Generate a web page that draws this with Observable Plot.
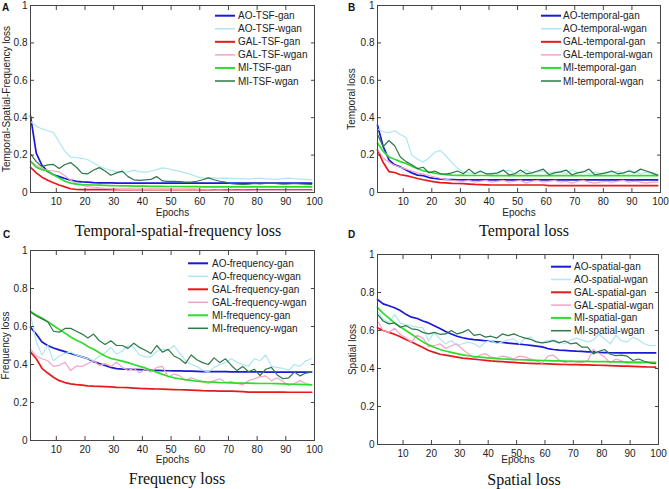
<!DOCTYPE html>
<html>
<head>
<meta charset="utf-8">
<script src="https://cdn.jsdelivr.net/npm/d3@7"></script>
<script src="https://cdn.jsdelivr.net/npm/@observablehq/plot@0.6"></script>
<style>
  html, body { margin: 0; padding: 0; background: #fff; }
  #fig { position: relative; width: 669px; height: 489px; overflow: hidden; background: #fff;
         font-family: "Liberation Sans", Arial, sans-serif; }
  .pane { position: absolute; z-index: 1; }
  .pane svg { display: block; }
  .title { position: absolute; font-family: "Liberation Serif", "Times New Roman", serif; font-size: 16px;
           color: #111; white-space: nowrap; transform: translate(-50%, -50%); z-index: 2; }
  .letter { position: absolute; font-weight: bold; font-size: 10px; color: #111; z-index: 2; }
  #legend { position: absolute; left: 0; top: 0; z-index: 5; pointer-events: none; }
</style>
</head>
<body>
<div id="fig"></div>
<script>
// ---------- shared axes ----------
const epochs = [1,3,5,7,9,11,13,15,17,19,21,23,25,27,29,31,33,35,37,39,41,43,45,47,49,
                51,53,55,57,59,61,63,65,67,69,71,73,75,77,79,81,83,85,87,89,91,93,95,97,99];
const xTicks = [10,20,30,40,50,60,70,80,90,100];
const yTicks = [0,0.2,0.4,0.6,0.8,1];
const yTickLabels = ["0","0.2","0.4","0.6","0.8","1"];
const seriesColors = ["#1a1ad6","#aee6f2","#e41a1c","#f4a3c8","#2edc2e","#2b7a48"];
const seriesWidths = [1.7,1.2,1.7,1.2,1.7,1.2];

// ---------- A: temporal-spatial-frequency ----------
const tsfNames = ["AO-TSF-gan","AO-TSF-wgan","GAL-TSF-gan","GAL-TSF-wgan","MI-TSF-gan","MI-TSF-wgan"];
const aoTsfGan = [0.41,0.21,0.145,0.112,0.095,0.085,0.075,0.066,0.06,0.057,
  0.055,0.053,0.052,0.051,0.051,0.05,0.05,0.05,0.05,0.05,
  0.05,0.05,0.05,0.05,0.05,0.05,0.05,0.05,0.05,0.05,
  0.05,0.05,0.05,0.05,0.05,0.05,0.05,0.05,0.05,0.05,
  0.05,0.05,0.05,0.05,0.05,0.05,0.05,0.05,0.05,0.05];
const aoTsfWgan = [0.38,0.355,0.34,0.33,0.32,0.27,0.22,0.19,0.186,0.183,
  0.175,0.158,0.14,0.127,0.118,0.112,0.108,0.11,0.118,0.112,
  0.108,0.115,0.122,0.132,0.127,0.12,0.113,0.105,0.096,0.085,
  0.077,0.078,0.078,0.076,0.077,0.076,0.074,0.075,0.072,0.075,
  0.077,0.073,0.072,0.07,0.074,0.077,0.074,0.072,0.07,0.068];
const galTsfGan = [0.135,0.105,0.082,0.066,0.052,0.04,0.03,0.02,0.016,0.015,
  0.015,0.015,0.015,0.015,0.015,0.015,0.015,0.015,0.015,0.015,
  0.015,0.015,0.015,0.015,0.015,0.015,0.015,0.015,0.015,0.015,
  0.014,0.014,0.014,0.014,0.014,0.014,0.014,0.014,0.014,0.014,
  0.014,0.014,0.014,0.014,0.014,0.014,0.014,0.014,0.014,0.014];
const galTsfWgan = [0.17,0.145,0.128,0.118,0.115,0.11,0.09,0.065,0.048,0.038,
  0.032,0.028,0.025,0.022,0.02,0.018,0.017,0.018,0.016,0.017,
  0.016,0.017,0.015,0.016,0.017,0.015,0.016,0.015,0.014,0.016,
  0.014,0.015,0.013,0.014,0.012,0.013,0.012,0.013,0.012,0.011,
  0.012,0.011,0.012,0.011,0.012,0.011,0.012,0.011,0.011,0.011];
const miTsfGan = [0.166,0.135,0.122,0.115,0.095,0.078,0.06,0.05,0.045,0.042,
  0.041,0.04,0.039,0.038,0.037,0.036,0.035,0.035,0.034,0.034,
  0.034,0.033,0.033,0.033,0.032,0.032,0.032,0.031,0.031,0.031,
  0.03,0.03,0.03,0.03,0.03,0.03,0.03,0.03,0.03,0.03,
  0.03,0.03,0.03,0.03,0.03,0.03,0.03,0.03,0.03,0.03];
const miTsfWgan = [0.207,0.165,0.138,0.148,0.15,0.128,0.15,0.16,0.135,0.102,
  0.1,0.12,0.133,0.115,0.092,0.105,0.114,0.085,0.068,0.065,
  0.068,0.07,0.085,0.062,0.06,0.06,0.058,0.056,0.055,0.06,
  0.068,0.078,0.068,0.06,0.055,0.047,0.045,0.043,0.045,0.048,
  0.046,0.048,0.05,0.047,0.045,0.046,0.048,0.046,0.044,0.043];

// ---------- B: temporal ----------
const tempNames = ["AO-temporal-gan","AO-temporal-wgan","GAL-temporal-gan","GAL-temporal-wgan","MI-temporal-gan","MI-temporal-wgan"];
const aoTempGan = [0.36,0.245,0.175,0.148,0.137,0.12,0.105,0.093,0.09,0.08,
  0.075,0.072,0.07,0.069,0.068,0.068,0.068,0.068,0.068,0.068,
  0.068,0.068,0.068,0.068,0.068,0.068,0.068,0.068,0.068,0.068,
  0.068,0.068,0.068,0.068,0.068,0.068,0.068,0.068,0.068,0.068,
  0.068,0.068,0.068,0.068,0.068,0.068,0.068,0.068,0.068,0.068];
const aoTempWgan = [0.34,0.325,0.32,0.33,0.31,0.294,0.2,0.178,0.163,0.185,
  0.215,0.225,0.195,0.16,0.13,0.11,0.105,0.1,0.11,0.1,
  0.105,0.1,0.115,0.12,0.1,0.105,0.12,0.105,0.11,0.115,
  0.105,0.11,0.11,0.1,0.12,0.105,0.115,0.1,0.11,0.1,
  0.11,0.105,0.115,0.1,0.12,0.11,0.1,0.11,0.1,0.095];
const galTempGan = [0.228,0.16,0.112,0.107,0.095,0.09,0.083,0.075,0.068,0.062,
  0.057,0.053,0.051,0.049,0.048,0.047,0.045,0.043,0.042,0.041,
  0.04,0.04,0.04,0.04,0.04,0.04,0.04,0.04,0.04,0.04,
  0.037,0.037,0.037,0.037,0.037,0.037,0.037,0.037,0.037,0.037,
  0.037,0.037,0.037,0.037,0.037,0.037,0.037,0.037,0.037,0.037];
const galTempWgan = [0.23,0.185,0.16,0.145,0.135,0.125,0.115,0.105,0.098,0.09,
  0.083,0.076,0.07,0.065,0.062,0.06,0.065,0.055,0.06,0.065,
  0.055,0.06,0.065,0.055,0.06,0.065,0.05,0.06,0.065,0.055,
  0.06,0.065,0.055,0.06,0.05,0.06,0.065,0.055,0.05,0.055,
  0.06,0.055,0.06,0.065,0.055,0.06,0.055,0.05,0.055,0.055];
const miTempGan = [0.265,0.22,0.19,0.178,0.165,0.155,0.14,0.127,0.116,0.11,
  0.104,0.1,0.096,0.093,0.092,0.092,0.091,0.091,0.091,0.091,
  0.09,0.09,0.09,0.09,0.09,0.09,0.09,0.09,0.09,0.09,
  0.09,0.09,0.09,0.09,0.09,0.09,0.09,0.09,0.09,0.09,
  0.09,0.09,0.09,0.09,0.09,0.09,0.09,0.09,0.09,0.09];
const miTempWgan = [0.31,0.245,0.278,0.25,0.19,0.165,0.148,0.128,0.135,0.105,
  0.115,0.1,0.098,0.105,0.115,0.1,0.125,0.1,0.115,0.1,
  0.1,0.105,0.12,0.095,0.1,0.12,0.1,0.105,0.115,0.125,
  0.095,0.105,0.11,0.12,0.095,0.105,0.11,0.125,0.095,0.1,
  0.105,0.115,0.1,0.105,0.115,0.105,0.125,0.115,0.105,0.093];

// ---------- C: frequency ----------
const freqNames = ["AO-frequency-gan","AO-frequency-wgan","GAL-frequency-gan","GAL-frequency-wgan","MI-frequency-gan","MI-frequency-wgan"];
const aoFreqGan = [0.596,0.56,0.518,0.5,0.487,0.477,0.468,0.458,0.449,0.44,
  0.43,0.415,0.405,0.395,0.385,0.378,0.376,0.375,0.374,0.373,
  0.372,0.37,0.369,0.368,0.367,0.366,0.366,0.365,0.365,0.364,
  0.363,0.363,0.362,0.362,0.362,0.361,0.361,0.361,0.361,0.361,
  0.361,0.36,0.36,0.36,0.36,0.36,0.36,0.36,0.36,0.36];
const aoFreqWgan = [0.66,0.52,0.45,0.5,0.42,0.445,0.458,0.465,0.45,0.44,
  0.43,0.42,0.445,0.46,0.49,0.455,0.47,0.5,0.49,0.45,
  0.44,0.44,0.47,0.48,0.475,0.5,0.46,0.42,0.4,0.39,
  0.37,0.36,0.385,0.4,0.41,0.43,0.41,0.4,0.39,0.43,
  0.42,0.45,0.39,0.385,0.38,0.37,0.4,0.39,0.42,0.43];
const galFreqGan = [0.465,0.43,0.38,0.355,0.333,0.315,0.305,0.298,0.294,0.291,
  0.288,0.286,0.285,0.284,0.282,0.28,0.279,0.278,0.276,0.274,
  0.273,0.272,0.271,0.27,0.269,0.268,0.267,0.266,0.265,0.264,
  0.262,0.261,0.261,0.26,0.26,0.26,0.259,0.257,0.255,0.255,
  0.255,0.255,0.255,0.255,0.255,0.254,0.254,0.254,0.254,0.254];
const galFreqWgan = [0.48,0.445,0.43,0.42,0.39,0.395,0.412,0.368,0.392,0.39,
  0.405,0.42,0.395,0.405,0.39,0.412,0.385,0.368,0.38,0.356,
  0.375,0.36,0.385,0.39,0.333,0.35,0.34,0.316,0.33,0.32,
  0.31,0.3,0.315,0.325,0.305,0.31,0.3,0.293,0.315,0.325,
  0.335,0.34,0.315,0.33,0.31,0.29,0.3,0.315,0.3,0.293];
const miFreqGan = [0.68,0.66,0.645,0.625,0.605,0.585,0.565,0.545,0.528,0.514,
  0.495,0.48,0.462,0.445,0.432,0.425,0.418,0.41,0.4,0.39,
  0.382,0.37,0.36,0.348,0.338,0.33,0.325,0.32,0.316,0.312,
  0.31,0.308,0.307,0.305,0.304,0.303,0.302,0.302,0.302,0.301,
  0.3,0.3,0.3,0.299,0.298,0.297,0.296,0.295,0.294,0.293];
const miFreqWgan = [0.675,0.655,0.64,0.625,0.575,0.57,0.59,0.59,0.575,0.56,
  0.54,0.56,0.525,0.505,0.525,0.5,0.5,0.485,0.512,0.49,
  0.475,0.458,0.5,0.465,0.48,0.445,0.43,0.405,0.45,0.425,
  0.41,0.4,0.435,0.41,0.43,0.395,0.368,0.39,0.362,0.375,
  0.342,0.375,0.385,0.345,0.325,0.33,0.36,0.34,0.355,0.36];

// ---------- D: spatial ----------
const spNames = ["AO-spatial-gan","AO-spatial-wgan","GAL-spatial-gan","GAL-spatial-wgan","MI-spatial-gan","MI-spatial-wgan"];
const aoSpGan = [0.763,0.74,0.73,0.72,0.705,0.685,0.67,0.663,0.65,0.64,
  0.625,0.61,0.595,0.582,0.57,0.562,0.556,0.552,0.549,0.546,
  0.543,0.54,0.537,0.534,0.531,0.528,0.525,0.522,0.518,0.514,
  0.505,0.5,0.497,0.495,0.493,0.491,0.49,0.488,0.487,0.485,
  0.484,0.483,0.482,0.482,0.482,0.482,0.482,0.482,0.482,0.482];
const aoSpWgan = [0.7,0.66,0.64,0.685,0.64,0.63,0.625,0.618,0.615,0.545,
  0.59,0.556,0.53,0.547,0.521,0.53,0.539,0.53,0.512,0.539,
  0.547,0.53,0.54,0.55,0.556,0.53,0.56,0.565,0.539,0.535,
  0.547,0.55,0.54,0.53,0.548,0.56,0.55,0.54,0.55,0.58,
  0.555,0.53,0.574,0.545,0.54,0.565,0.55,0.53,0.52,0.521];
const galSpGan = [0.615,0.6,0.59,0.58,0.567,0.553,0.54,0.525,0.51,0.495,
  0.485,0.475,0.47,0.465,0.46,0.455,0.452,0.449,0.446,0.443,
  0.44,0.438,0.436,0.434,0.432,0.43,0.428,0.427,0.426,0.425,
  0.424,0.423,0.422,0.421,0.42,0.42,0.419,0.419,0.418,0.417,
  0.416,0.415,0.414,0.413,0.412,0.411,0.41,0.409,0.408,0.407];
const galSpWgan = [0.65,0.6,0.59,0.612,0.58,0.56,0.54,0.575,0.56,0.515,
  0.52,0.53,0.505,0.52,0.53,0.5,0.478,0.455,0.47,0.478,
  0.46,0.455,0.465,0.46,0.45,0.465,0.46,0.45,0.44,0.428,
  0.465,0.47,0.445,0.43,0.44,0.435,0.43,0.44,0.5,0.48,
  0.46,0.43,0.45,0.44,0.425,0.43,0.425,0.43,0.43,0.425];
const miSpGan = [0.72,0.69,0.665,0.64,0.62,0.6,0.58,0.56,0.54,0.525,
  0.512,0.5,0.492,0.485,0.478,0.472,0.467,0.463,0.46,0.457,
  0.455,0.452,0.45,0.449,0.447,0.446,0.445,0.444,0.443,0.442,
  0.441,0.44,0.44,0.439,0.438,0.437,0.437,0.437,0.436,0.436,
  0.436,0.435,0.435,0.435,0.434,0.434,0.434,0.433,0.433,0.433];
const miSpWgan = [0.685,0.65,0.635,0.64,0.617,0.626,0.609,0.605,0.59,0.582,
  0.59,0.58,0.582,0.6,0.582,0.59,0.605,0.574,0.58,0.565,
  0.57,0.56,0.582,0.573,0.582,0.57,0.56,0.553,0.54,0.535,
  0.539,0.547,0.535,0.545,0.53,0.535,0.512,0.512,0.477,0.49,
  0.5,0.475,0.468,0.47,0.465,0.442,0.45,0.438,0.43,0.425];

// ---------- layout ----------
const fig = document.getElementById("fig");
const legendItems = [];

function panel(cfg) {
  const rows = [];
  cfg.series.forEach((vals, k) => vals.forEach((v, i) =>
    rows.push({epoch: epochs[i], value: v, name: cfg.names[k]})));
  const lines = cfg.names.map((n, k) =>
    Plot.line(rows.filter(r => r.name === n), {
      x: "epoch", y: "value", stroke: seriesColors[k], strokeWidth: seriesWidths[k],
      strokeLinejoin: "round"
    }));
  const svg = Plot.plot({
    width: cfg.w, height: cfg.h,
    marginLeft: cfg.ml, marginRight: cfg.mr, marginTop: cfg.mt, marginBottom: cfg.mb,
    style: {fontFamily: "'Liberation Sans', Arial, sans-serif", fontSize: "10px", color: "#222",
            background: "transparent", overflow: "visible"},
    x: {domain: [1, 100]},
    y: {domain: [0, 1]},
    marks: [
      ...lines,
      Plot.frame({stroke: "#444", strokeWidth: 1}),
      Plot.axisX(xTicks, {anchor: "bottom", tickSize: -4, tickPadding: 9, label: null, stroke: "#444"}),
      Plot.axisX(xTicks, {anchor: "top", tickSize: -4, tickFormat: () => "", label: null, stroke: "#444"}),
      Plot.axisY(yTicks, {anchor: "left", tickSize: -4, tickPadding: 7, label: null, stroke: "#444",
                          tickFormat: d => yTickLabels[yTicks.indexOf(d)]}),
      Plot.axisY(yTicks, {anchor: "right", tickSize: -4, tickFormat: () => "", label: null, stroke: "#444"}),
      Plot.text(["Epochs"], {text: d => d, frameAnchor: "bottom", dy: cfg.epochsDy,
                             lineAnchor: "middle", textAnchor: "middle", fill: "#222"}),
      Plot.text([cfg.ylabel], {text: d => d, frameAnchor: "left", dx: -cfg.ylabelDx, rotate: -90,
                               lineAnchor: "middle", textAnchor: "middle", fill: "#222"})
    ]
  });
  const wrap = document.createElement("div");
  wrap.className = "pane";
  wrap.style.left = cfg.left + "px";
  wrap.style.top = cfg.top + "px";
  wrap.style.width = cfg.w + "px";
  wrap.appendChild(svg);
  fig.appendChild(wrap);

  cfg.names.forEach((n, k) => legendItems.push({
    name: n, k, yc: cfg.lgTop + k * cfg.lgStep, lx: cfg.lgLineX, tx: cfg.lgTextX
  }));

  const t = document.createElement("div");
  t.className = "title";
  t.style.left = cfg.titleX + "px";
  t.style.top = cfg.titleY + "px";
  t.textContent = cfg.title;
  fig.appendChild(t);
}

function letter(ch, x, y) {
  const d = document.createElement("div");
  d.className = "letter";
  d.style.left = x + "px";
  d.style.top = y + "px";
  d.textContent = ch;
  fig.appendChild(d);
}

panel({left: 0, top: 0, w: 335, h: 220, ml: 30, mr: 21, mt: 5, mb: 28,
  names: tsfNames, series: [aoTsfGan, aoTsfWgan, galTsfGan, galTsfWgan, miTsfGan, miTsfWgan],
  ylabel: "Temporal-Spatial-Frequency loss", ylabelDx: 24, epochsDy: 20,
  lgLineX: 215, lgTextX: 238, lgTop: 15.7, lgStep: 13.06,
  title: "Temporal-spatial-frequency loss", titleX: 178, titleY: 231});

panel({left: 335, top: 0, w: 334, h: 220, ml: 42, mr: 9, mt: 5, mb: 28,
  names: tempNames, series: [aoTempGan, aoTempWgan, galTempGan, galTempWgan, miTempGan, miTempWgan],
  ylabel: "Temporal loss", ylabelDx: 26, epochsDy: 20,
  lgLineX: 541, lgTextX: 563, lgTop: 15.7, lgStep: 13.06,
  title: "Temporal loss", titleX: 524, titleY: 231});

panel({left: 0, top: 245, w: 335, h: 220, ml: 30, mr: 21, mt: 5, mb: 25,
  names: freqNames, series: [aoFreqGan, aoFreqWgan, galFreqGan, galFreqWgan, miFreqGan, miFreqWgan],
  ylabel: "Frequency loss", ylabelDx: 25, epochsDy: 19,
  lgLineX: 188, lgTextX: 212, lgTop: 263.3, lgStep: 13.0,
  title: "Frequency loss", titleX: 177, titleY: 479});

panel({left: 335, top: 245, w: 334, h: 220, ml: 42, mr: 11, mt: 9, mb: 21,
  names: spNames, series: [aoSpGan, aoSpWgan, galSpGan, galSpWgan, miSpGan, miSpWgan],
  ylabel: "Spatial loss", ylabelDx: 25, epochsDy: 15,
  lgLineX: 551, lgTextX: 574, lgTop: 266.7, lgStep: 12.8,
  title: "Spatial loss", titleX: 524, titleY: 480});

// legends: one overlay SVG drawn with d3 on top of the panels
const lg = d3.select(fig).append("svg").attr("id", "legend")
  .attr("width", 669).attr("height", 489);
const items = lg.selectAll("g").data(legendItems).join("g");
items.append("line")
  .attr("x1", d => d.lx).attr("x2", d => d.lx + 20)
  .attr("y1", d => d.yc).attr("y2", d => d.yc)
  .attr("stroke", d => seriesColors[d.k])
  .attr("stroke-width", d => d.k % 2 === 0 ? 2 : 1.5);
items.append("text")
  .attr("x", d => d.tx).attr("y", d => d.yc)
  .attr("dy", "0.35em")
  .attr("font-family", "'Liberation Sans', Arial, sans-serif")
  .attr("font-size", 10).attr("fill", "#222")
  .text(d => d.name);

letter("A", 2, 2);
letter("B", 348, 2);
letter("C", 3, 229);
letter("D", 348, 229);
</script>
</body>
</html>
